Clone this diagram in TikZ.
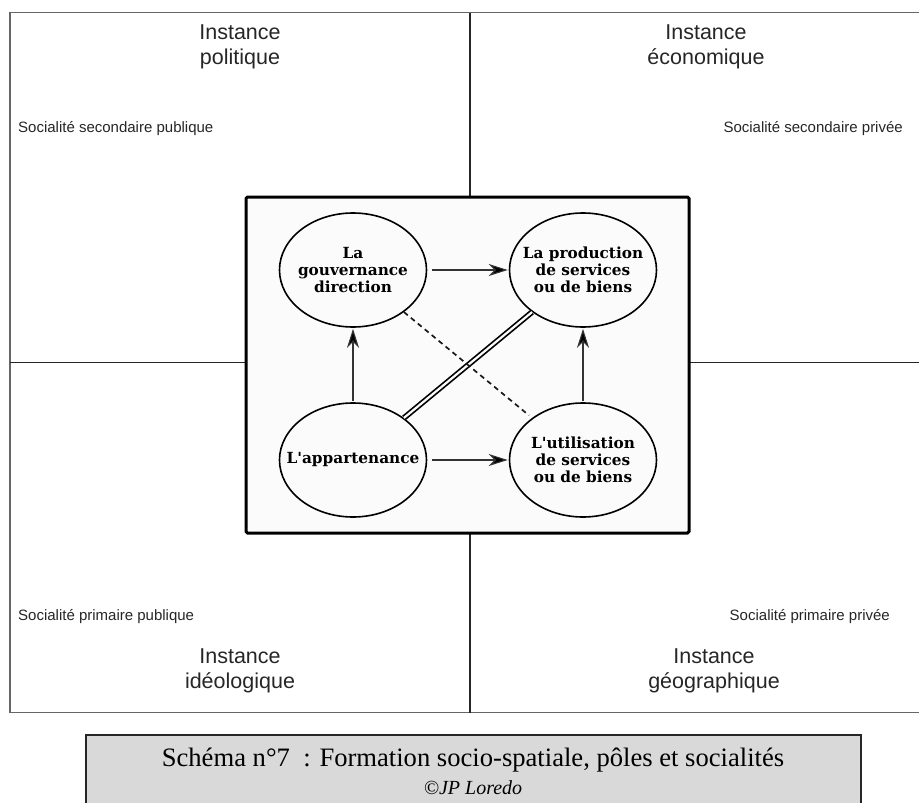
\documentclass[tikz,border=0pt]{standalone}
\usepackage{fontspec}
\setmainfont{Liberation Serif}
\newfontfamily\sansf{Liberation Sans}
\newfontfamily\ellf{DejaVu Serif}
\usetikzlibrary{shapes.geometric,arrows.meta}
\definecolor{boxfill}{HTML}{FBFBFB}
\definecolor{capfill}{HTML}{D9D9D9}
\begin{document}
\begin{tikzpicture}[x=1pt,y=-1pt,
  frame/.style={draw=black!60, line width=1.3pt},
  divider/.style={draw=black!85, line width=1.8pt},
  inst/.style={font=\sansf\fontsize{21.5}{24.5}\selectfont, align=center, anchor=north, inner sep=0pt, text=black!85},
  socw/.style={font=\sansf\fontsize{15}{18}\selectfont, inner sep=0pt, anchor=base west, text=black!85},
  soce/.style={font=\sansf\fontsize{15}{18}\selectfont, inner sep=0pt, anchor=base east, text=black!85},
  pole/.style={ellipse, draw=black, line width=1.6pt, fill=boxfill, minimum width=147pt, minimum height=114pt, inner xsep=-15pt, inner ysep=0pt, align=center, font=\ellf\bfseries\fontsize{15.3}{17}\selectfont, text=black},
  link/.style={draw=black!80, line width=1.1pt, -{Stealth[length=19pt,width=12pt,inset=6pt,fill=black]}},
  centralbox/.style={draw=black, line width=3pt, fill=boxfill, rounded corners=1.5pt},
  capbox/.style={draw=black!85, line width=1.5pt, fill=capfill, anchor=north west, minimum width=775pt, minimum height=90pt, inner sep=0pt}
]
\useasboundingbox (0,0) rectangle (919,803);
% outer frame and quadrant dividers
\draw[frame] (10,12.5) rectangle (930,712.5);
\coordinate (vt) at (470,12.5);
\coordinate (vb) at (470,712.5);
\coordinate (hl) at (10,362.5);
\coordinate (hr) at (930,362.5);
\draw[divider] (vt) -- (vb);
\draw[divider] (hl) -- (hr);
% quadrant labels
\node[inst] (ipol) at (240,25) {Instance\\politique};
\node[inst] (ieco) at (706,25) {Instance\\économique};
\node[inst] (iideo) at (240,649) {Instance\\idéologique};
\node[inst] (igeo) at (714,649) {Instance\\géographique};
\node[socw] (ssp) at (18,132) {Socialité secondaire publique};
\node[soce] (sspr) at (903,132) {Socialité secondaire privée};
\node[socw] (spp) at (18,620) {Socialité primaire publique};
\node[soce] (sppr) at (890,620) {Socialité primaire privée};
% central box
\draw[centralbox] (246,197) rectangle (689,533);
% poles
\node[pole] (gov) at (353,270) {La\\gouvernance\\direction};
\node[pole] (prod) at (583,270) {La production\\de services\\ou de biens};
\node[pole] (app) at (353,460) {L'appartenance};
\node[pole] (util) at (583,460) {L'utilisation\\de services\\ou de biens};
% connectors
\draw[link, shorten <=5pt, shorten >=1pt] (gov) -- (prod);
\draw[link, shorten <=5pt, shorten >=1pt] (app) -- (util);
\draw[link, shorten <=1pt, shorten >=1pt] (app) -- (gov);
\draw[link, shorten <=1pt, shorten >=1pt] (util) -- (prod);
\draw[draw=black, line width=1.7pt, double=boxfill, double distance=2.2pt] (app) -- (prod);
\draw[draw=black!90, line width=1.7pt, dash pattern=on 5pt off 4pt, shorten >=4pt] (gov) -- (util);
% caption
\node[capbox] (cap) at (85,734) {};
\node[font=\fontsize{26.6}{30}\selectfont, anchor=base, inner sep=0pt] (cap1) at (473,766) {Schéma n°7~ : Formation socio-spatiale, pôles et socialités};
\node[font=\itshape\fontsize{20}{22}\selectfont, anchor=base, inner sep=0pt] (cap2) at (473,794) {©JP Loredo};
\end{tikzpicture}
\end{document}
